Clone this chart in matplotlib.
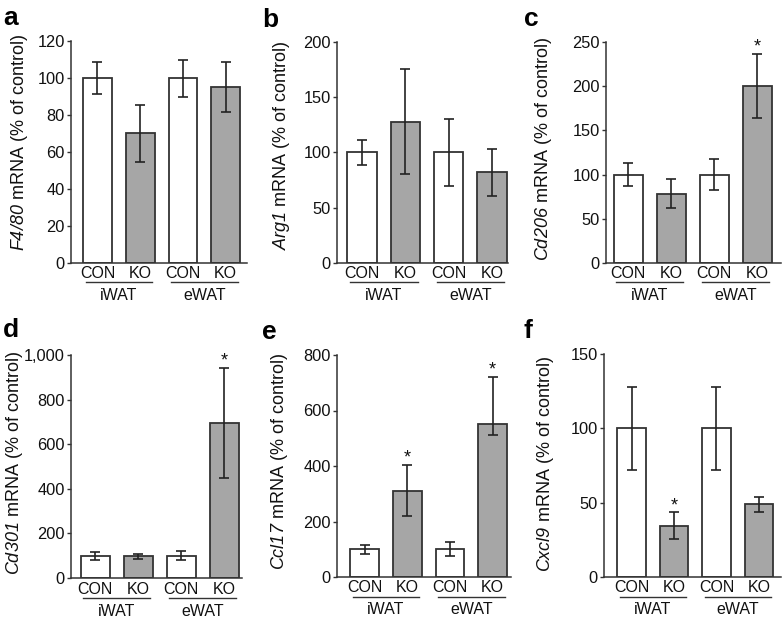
import matplotlib
matplotlib.use("Agg")
import matplotlib.pyplot as plt
from matplotlib.ticker import FuncFormatter

plt.rcParams['font.family'] = ['Liberation Sans', 'DejaVu Sans']
plt.rcParams['mathtext.fontset'] = 'custom'
plt.rcParams['mathtext.it'] = 'Liberation Sans:italic'
plt.rcParams['mathtext.rm'] = 'Liberation Sans:italic'
plt.rcParams['mathtext.default'] = 'it'

# ---- data ----
bar_labels = ["CON", "KO", "CON", "KO"]
group_labels = ["iWAT", "eWAT"]
panel_letters = ["a", "b", "c", "d", "e", "f"]
genes = ["F4/80", "Arg1", "Cd206", "Cd301", "Ccl17", "Cxcl9"]

a_vals = [100, 70, 100, 95]
a_err_lo = [8.5, 15.5, 10, 13.5]
a_err_hi = [8.5, 15.5, 10, 13.5]
b_vals = [100, 128, 100, 82]
b_err_lo = [11, 47.5, 30, 21.5]
b_err_hi = [11, 47.5, 30, 21.5]
c_vals = [100, 78.5, 100, 200]
c_err_lo = [13.3, 16.8, 17.4, 36.5]
c_err_hi = [13.3, 16.8, 17.4, 36.5]
d_vals = [100, 98, 100, 695]
d_err_lo = [18, 11, 21, 246]
d_err_hi = [18, 11, 21, 246]
e_vals = [100, 311, 100, 551]
e_err_lo = [16, 92, 25, 41]
e_err_hi = [16, 92, 25, 171]
f_vals = [100, 34.6, 100, 49]
f_err_lo = [28, 8.8, 28, 5]
f_err_hi = [28, 8.8, 28, 5]

a_ticks = [0, 20, 40, 60, 80, 100, 120]
b_ticks = [0, 50, 100, 150, 200]
c_ticks = [0, 50, 100, 150, 200, 250]
d_ticks = [0, 200, 400, 600, 800, 1000]
e_ticks = [0, 200, 400, 600, 800]
f_ticks = [0, 50, 100, 150]

a_stars = []
b_stars = []
c_stars = [3]
d_stars = [3]
e_stars = [1, 3]
f_stars = [1]

panels = [
    (a_vals, a_err_lo, a_err_hi, a_ticks, a_stars),
    (b_vals, b_err_lo, b_err_hi, b_ticks, b_stars),
    (c_vals, c_err_lo, c_err_hi, c_ticks, c_stars),
    (d_vals, d_err_lo, d_err_hi, d_ticks, d_stars),
    (e_vals, e_err_lo, e_err_hi, e_ticks, e_stars),
    (f_vals, f_err_lo, f_err_hi, f_ticks, f_stars),
]

# ---- layout (pixels) ----
W, H = 782, 619
boxes = [  # x0, x1, ytop, ybottom
    (71, 247, 41, 263),
    (337, 508, 42, 263),
    (606, 781, 42, 263),
    (71, 242, 355, 578),
    (337, 511, 355, 577),
    (604, 781, 354, 577),
]
xlims = [(-0.62, 3.50), (-0.58, 3.37), (-0.52, 3.55),
         (-0.56, 3.41), (-0.65, 3.43), (-0.65, 3.52)]
letter_pos = [(3, 25), (262, 27), (524, 26), (3, 337), (262, 339), (524, 338)]
ylabel_pos = [(20, 143), (281, 145), (544, 149), (15, 463), (279, 462), (546, 464)]

EDGE = "#333333"
GRAY = "#a6a6a6"
TXT = "#111111"
fig = plt.figure(figsize=(W / 100, H / 100), dpi=100)

for i, (vals, elo, ehi, ticks, stars) in enumerate(panels):
    x0, x1, yt, yb = boxes[i]
    ax = fig.add_axes([x0 / W, 1 - yb / H, (x1 - x0) / W, (yb - yt) / H])
    xs = list(range(len(vals)))
    colors = ["white", GRAY, "white", GRAY]
    ax.bar(xs, vals, width=0.675, color=colors, edgecolor=EDGE, linewidth=1.3, zorder=2)
    ax.errorbar(xs, vals, yerr=[elo, ehi], fmt="none", ecolor="#222222", elinewidth=1.2,
                capsize=3.5, capthick=1.2, zorder=3)
    ax.set_xlim(*xlims[i])
    ax.set_ylim(ticks[0], ticks[-1])
    ax.set_yticks(ticks)
    ax.yaxis.set_major_formatter(FuncFormatter(lambda v, p: f"{v:,.0f}"))
    ax.set_xticks([])
    for s in ["top", "right"]:
        ax.spines[s].set_visible(False)
    for s in ["left", "bottom"]:
        ax.spines[s].set_color(EDGE)
        ax.spines[s].set_linewidth(1.1)
    ax.tick_params(axis="y", direction="out", length=3, width=1, color=EDGE,
                   labelsize=11.8, pad=1.5, labelcolor=TXT)
    lx, ly = ylabel_pos[i]
    fig.text(lx / W, 1 - ly / H, r"$" + genes[i] + "$ mRNA (% of control)",
             rotation=90, ha="center", va="center", fontsize=13, color=TXT)
    hpx = yb - yt
    tr = ax.get_xaxis_transform()
    for x, lab in zip(xs, bar_labels):
        ax.text(x, -11 / hpx, lab, transform=tr, ha="center", va="center",
                fontsize=11.5, color=TXT, clip_on=False)
    for g, lab in enumerate(group_labels):
        c = 2 * g + 0.5
        ax.plot([c - 0.78, c + 0.78], [-19.5 / hpx] * 2, transform=tr, color=EDGE,
                lw=1.0, clip_on=False)
        ax.text(c, -33 / hpx, lab, transform=tr, ha="center", va="center",
                fontsize=11.5, color=TXT, clip_on=False)
    for s in stars:
        ax.annotate("*", (s, vals[s] + ehi[s]), xytext=(0, 5), textcoords="offset points",
                    ha="center", va="center", fontsize=13, color=TXT)
    px, py = letter_pos[i]
    fig.text(px / W, 1 - py / H, panel_letters[i], fontsize=19, fontweight="bold",
             ha="left", va="baseline", color="black")

fig.savefig("out.png", dpi=100)
